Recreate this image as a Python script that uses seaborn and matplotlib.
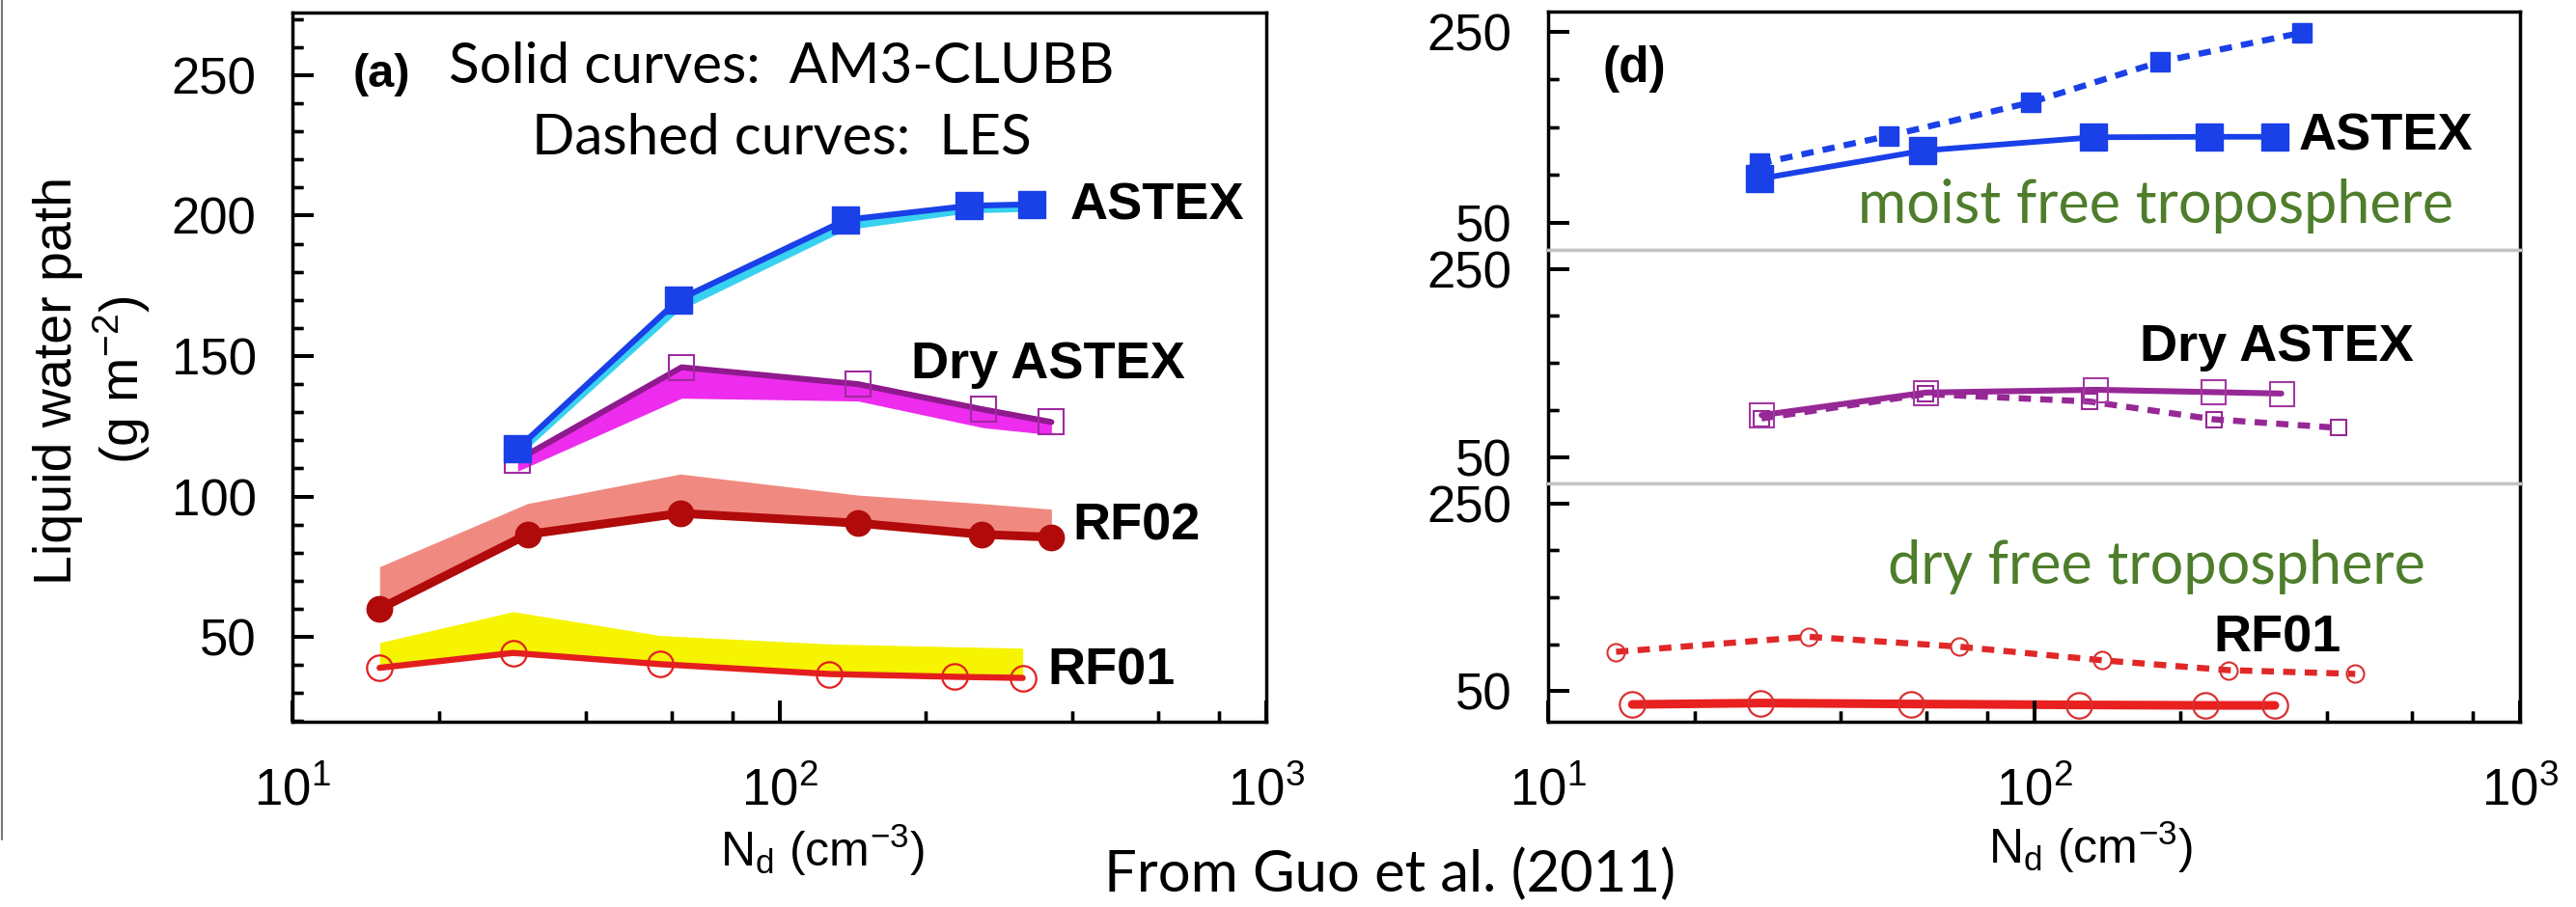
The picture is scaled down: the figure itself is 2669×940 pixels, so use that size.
import numpy as np
import pandas as pd
import matplotlib
matplotlib.use("Agg")
import matplotlib.pyplot as plt
import seaborn as sns
from matplotlib.ticker import FixedLocator, FixedFormatter, NullFormatter, LogLocator, LogFormatterSciNotation
from matplotlib.lines import Line2D
from matplotlib.transforms import blended_transform_factory

# ---------------- data: panel (a) ----------------
a_astex_x = [29, 62, 137, 245, 330]
a_astex_y = [117, 170, 198.5, 203.5, 204]
a_astex_les_lo = [114, 166, 195, 201, 201.5]

a_dry_x = [29, 63, 145, 262, 362]
a_dry_y = [113, 146, 140, 131, 126.5]
a_dry_les_lo = [109, 135, 134, 124.5, 122]

a_rf02_x = [15.1, 30.4, 62.6, 145, 260, 362]
a_rf02_y = [60, 86.5, 94, 90.5, 86.5, 85.5]
a_rf02_les_hi = [75, 97.5, 108, 100.5, 97.5, 95.5]

a_rf01_x = [15.1, 28.4, 57, 126.5, 229, 316]
a_rf01_y = [39, 44.3, 40.3, 36.8, 35.8, 35.4]
a_rf01_les_hi = [48, 59, 50.5, 47.5, 46.5, 46]

# ---------------- data: panel (d) ----------------
d_astex_clubb_x = [27.2, 59.1, 132.4, 229, 313]
d_astex_clubb_y = [96, 125.5, 139.5, 140, 140]
d_astex_les_x = [27.2, 50.2, 98.4, 181.5, 355]
d_astex_les_y = [112, 141, 176, 218.5, 249]

d_dry_clubb_x = [27.5, 59.8, 134, 233.5, 322.7]
d_dry_clubb_y = [94.5, 118.5, 121.5, 119, 117.5]
d_dry_les_x = [27.5, 59.8, 130, 235, 423]
d_dry_les_y = [91, 117, 109, 90, 81]

d_rf01_clubb_x = [14.9, 27.4, 55.7, 123.5, 225, 313]
d_rf01_clubb_y = [36, 37.5, 36.5, 35.5, 35, 35]
d_rf01_les_x = [13.8, 34.4, 70, 138, 251, 458]
d_rf01_les_y = [92, 108, 97.5, 83, 72.5, 68.5]

x_major = [10, 100, 1000]
x_minor = [20, 40, 60, 80, 200, 400, 600, 800]
a_yticks = [50, 100, 150, 200, 250]
a_yminor = [v for v in range(20, 271, 10) if v % 50]
a_yticklabels = ['50', '100', '150', '200', '250']
d_yticks = [50, 250]
d_yminor = [100, 150, 200]
d_yticklabels = ['50', '250']

# ---------------- style ----------------
sns.set_theme(style="white")
plt.rcParams['font.family'] = ['Liberation Sans', 'DejaVu Sans']
plt.rcParams['mathtext.fontset'] = 'custom'
plt.rcParams['mathtext.rm'] = 'Liberation Sans'
plt.rcParams['mathtext.it'] = 'Liberation Sans:italic'
plt.rcParams['mathtext.bf'] = 'Liberation Sans:bold'
plt.rcParams.update({
    'xtick.bottom': True, 'ytick.left': True, 'xtick.top': False, 'ytick.right': False,
    'xtick.direction': 'in', 'ytick.direction': 'in',
})

W, H = 2669, 940
fig = plt.figure(figsize=(W / 100, H / 100), dpi=100)
fig.patch.set_facecolor('white')


def px_axes(left, top, right, bottom):
    ax = fig.add_axes([left / W, 1 - bottom / H, (right - left) / W, (bottom - top) / H])
    ax._px_size = (right - left, bottom - top)
    return ax


def ft(x, y, s, **kw):
    return fig.text(x / W, 1 - y / H, s, **kw)


def line(ax, x, y, color, lw, marker, ms, mfc, mec, mew, ls='-', z=3):
    df = pd.DataFrame({'x': x, 'y': y})
    sns.lineplot(data=df, x='x', y='y', ax=ax, color=color, linewidth=lw,
                 marker=marker, markersize=ms, markerfacecolor=mfc,
                 markeredgecolor=mec, markeredgewidth=mew, linestyle=ls,
                 estimator=None, errorbar=None, sort=False, legend=False, zorder=z)


def setup_axis(ax, ylim, yticks, yminor, ylabels, xlabels=True, spine_col='black'):
    ax.set_xlim(10, 1000)
    ax.xaxis.set_major_locator(LogLocator(base=10, numticks=5))
    ax.xaxis.set_minor_locator(FixedLocator(x_minor))
    ax.xaxis.set_minor_formatter(NullFormatter())
    ax.xaxis.set_major_formatter(LogFormatterSciNotation() if xlabels else NullFormatter())
    ax.set_ylim(*ylim)
    ax.yaxis.set_major_locator(FixedLocator(yticks))
    ax.yaxis.set_major_formatter(FixedFormatter(ylabels))
    ax.yaxis.set_minor_locator(FixedLocator(yminor))
    ax.yaxis.set_minor_formatter(NullFormatter())
    for s in ax.spines.values():
        s.set_visible(True)
        s.set_color(spine_col)
        s.set_linewidth(2.5)
    ax.tick_params(axis='both', which='both', direction='in', top=False, right=False,
                   bottom=True, left=True, colors='black', labelsize=38, pad=27)
    ax.tick_params(axis='both', which='major', length=16, width=2.8)
    ax.tick_params(axis='both', which='minor', length=8, width=2.4)
    ax.tick_params(axis='x', which='both', pad=34)
    ax.set_xlabel('')
    ax.set_ylabel('')


def draw_ticks(ax, ymaj, ymin, xticks=True):
    # explicit inward tick marks at the same positions as the axis ticks
    wpx, hpx = ax._px_size
    ty = blended_transform_factory(ax.transAxes, ax.transData)
    tx = blended_transform_factory(ax.transData, ax.transAxes)
    kw = dict(color='black', clip_on=False, zorder=6, solid_capstyle='butt')
    for v in ymaj:
        ax.plot([0, 22 / wpx], [v, v], transform=ty, lw=2.8, **kw)
    for v in ymin:
        ax.plot([0, 11 / wpx], [v, v], transform=ty, lw=2.4, **kw)
    if xticks:
        for v in x_major:
            ax.plot([v, v], [0, 22 / hpx], transform=tx, lw=2.8, **kw)
        for v in x_minor:
            ax.plot([v, v], [0, 11 / hpx], transform=tx, lw=2.4, **kw)


# ---------------- panel (a) ----------------
axA = px_axes(303, 13, 1312, 748)
axA.set_xscale('log')
axA.fill_between(a_rf01_x, a_rf01_y, a_rf01_les_hi, color='#f6f400', lw=0, zorder=1)
axA.fill_between(a_rf02_x, a_rf02_y, a_rf02_les_hi, color='#f08a80', lw=0, zorder=1)
axA.fill_between(a_dry_x, a_dry_les_lo, a_dry_y, color='#ee2cee', lw=0, zorder=1)
axA.fill_between(a_astex_x, a_astex_les_lo, a_astex_y, color='#38d2f0', lw=0, zorder=1)

line(axA, a_rf01_x, a_rf01_y, '#e41e1e', 4.6, 'o', 19, 'none', '#e41e1e', 1.6)
line(axA, a_rf02_x, a_rf02_y, '#b00a0a', 6.5, 'o', 19, '#b00a0a', '#b00a0a', 1)
line(axA, a_dry_x, a_dry_y, '#8e1a8e', 4.4, 's', 19, 'none', '#a02aa0', 1.5)
line(axA, a_astex_x, a_astex_y, '#1a40e8', 4.4, 's', 20, '#1a40e8', '#1a40e8', 1, z=4)

setup_axis(axA, (19.8, 272.3), a_yticks, a_yminor, a_yticklabels)
draw_ticks(axA, a_yticks, a_yminor)
axA.set_xlim(10, 1000)
axA.set_ylim(19.8, 272.3)

# ---------------- panel (d) ----------------
ax1 = px_axes(1604, 12, 2611, 259)
ax2 = px_axes(1604, 259, 2611, 500.6)
ax3 = px_axes(1604, 500.6, 2611, 748)
for ax in (ax1, ax2, ax3):
    ax.set_xscale('log')

dash = (0, (2.0, 1.5))
line(ax1, d_astex_les_x, d_astex_les_y, '#1a40e8', 4.6, 's', 15, '#1a40e8', '#1a40e8', 1, ls=dash)
line(ax1, d_astex_clubb_x, d_astex_clubb_y, '#1a40e8', 4.2, 's', 20, '#1a40e8', '#1a40e8', 1)
line(ax2, d_dry_les_x, d_dry_les_y, '#962896', 4.6, 's', 12, 'none', '#962896', 1.5, ls=dash)
line(ax2, d_dry_clubb_x, d_dry_clubb_y, '#962896', 4.4, 's', 18, 'none', '#a23aa2', 1.5)
line(ax3, d_rf01_les_x, d_rf01_les_y, '#e02828', 4.6, 'o', 13, 'none', '#d83030', 1.5, ls=dash)
line(ax3, d_rf01_clubb_x, d_rf01_clubb_y, '#e82020', 6.5, 'o', 19, 'none', '#d83030', 1.6)

ylims = [(21.5, 271.2), (22.3, 270.3), (17.6, 271.6)]
for ax, yl in zip((ax1, ax2, ax3), ylims):
    setup_axis(ax, yl, d_yticks, d_yminor, d_yticklabels, xlabels=(ax is ax3))
    draw_ticks(ax, d_yticks, d_yminor, xticks=(ax is ax3))
    ax.set_xlim(10, 1000)
    ax.set_ylim(*yl)
for ax in (ax1, ax2):
    ax.tick_params(axis='x', which='both', bottom=False, labelbottom=False)
sep = '#c4c4c4'
ax1.spines['bottom'].set_color(sep)
ax2.spines['top'].set_color(sep)
ax2.spines['bottom'].set_color(sep)
ax3.spines['top'].set_color(sep)

# ---------------- axis labels ----------------
ft(96, 394, 'Liquid water path\n(g m$^{-2}$)', rotation=90, ha='center', va='center',
   fontsize=40, linespacing=1.15, color='black')
ft(852, 881, 'N$_\\mathrm{d}$ (cm$^{-3}$)', ha='center', va='center', fontsize=36, color='black')
ft(2166, 878, 'N$_\\mathrm{d}$ (cm$^{-3}$)', ha='center', va='center', fontsize=36, color='black')

# ---------------- panel annotations ----------------
bold = dict(fontweight='bold', fontsize=39, color='black', va='center', ha='left')
ft(395, 78, '(a)', fontweight='bold', fontsize=35, ha='center', va='center', color='black')
ft(1693, 71, '(d)', fontweight='bold', fontsize=37, ha='center', va='center', color='black')
ft(1109, 213, 'ASTEX', **bold)
ft(944, 378, 'Dry ASTEX', **bold)
ft(1111, 546, 'RF02', **bold)
ft(1085, 695, 'RF01', **bold)
ft(2382, 141, 'ASTEX', **bold)
ft(2217, 360, 'Dry ASTEX', **bold)
ft(2293, 662, 'RF01', **bold)

gill = ['Lato', 'DejaVu Sans']
ft(810, 69, 'Solid curves:  AM3-CLUBB', family=gill, fontsize=42, ha='center', va='center', color='black')
ft(810, 144, 'Dashed curves:  LES', family=gill, fontsize=42, ha='center', va='center', color='black')
green = '#4e7d2b'
ft(2234, 213, 'moist free troposphere', family=gill, fontsize=44, ha='center', va='center', color=green)
ft(2234, 587, 'dry free troposphere', family=gill, fontsize=44, ha='center', va='center', color=green)
ft(1440, 906, 'From Guo et al. (2011)', family=gill, fontsize=43, ha='center', va='center', color='black')

# slide border line at the far left
fig.add_artist(Line2D([2 / W, 2 / W], [1, 1 - 870 / H], transform=fig.transFigure,
                      color='#777777', lw=1.5))

fig.savefig('out.png', dpi=100, facecolor='white')
